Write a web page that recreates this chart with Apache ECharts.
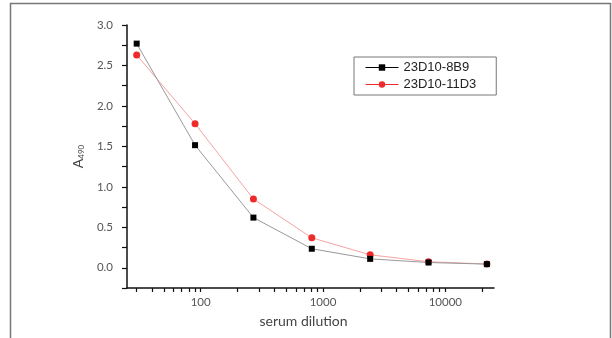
<!DOCTYPE html>
<html>
<head>
<meta charset="utf-8">
<script src="https://cdn.jsdelivr.net/npm/echarts@6/dist/echarts.min.js"></script>
<style>html,body{margin:0;padding:0;background:#fff;}#c{width:612px;height:338px;}</style>
</head>
<body>
<div id="c"></div>
<script>
const dilutions = [30, 90, 270, 810, 2430, 7290, 21870];
const series8B9 = [2.77, 1.515, 0.62, 0.235, 0.11, 0.065, 0.045];
const series11D3 = [2.63, 1.78, 0.85, 0.37, 0.16, 0.075, 0.046];
const xMajorTicks = [100, 1000, 10000];
const xMinorTicks = [30, 40, 50, 60, 70, 80, 90, 200, 300, 400, 500, 600, 700, 800, 900, 2000, 3000, 4000, 5000, 6000, 7000, 8000, 9000, 20000];
const yMajorTicks = [0, 0.5, 1.0, 1.5, 2.0, 2.5, 3.0];
const yMinorTicks = [-0.25, 0.25, 0.75, 1.25, 1.75, 2.25, 2.75];
const seriesNames = ['23D10-8B9', '23D10-11D3'];

const font = 'Lato, "Open Sans", sans-serif';
const chart = echarts.init(document.getElementById('c'), null, {renderer: 'canvas'});
const pair = (xs, ys) => xs.map((x, i) => [x, ys[i]]);
chart.setOption({
  animation: false,
  backgroundColor: '#fff',
  graphic: [{
    type: 'rect', shape: {x: 10.5, y: 3.5, width: 600, height: 340},
    style: {fill: 'none', stroke: '#777', lineWidth: 1.5}, silent: true
  }],
  grid: {left: 127, right: 118, top: 25, bottom: 50},
  legend: {
    orient: 'vertical', left: 354, top: 57,
    borderColor: '#777', borderWidth: 1, padding: [4, 20, 4, 11],
    itemWidth: 33, itemHeight: 8, itemGap: 4,
    textStyle: {fontFamily: 'Liberation Sans, Arial, sans-serif', fontSize: 13, color: '#222', lineHeight: 13},
    data: [
      {name: seriesNames[0], itemStyle: {color: '#000'}, lineStyle: {color: '#000', width: 1}},
      {name: seriesNames[1], itemStyle: {color: '#ee2a2a'}, lineStyle: {color: '#ee2a2a', width: 1}}
    ]
  },
  xAxis: {
    type: 'log', logBase: 10, min: 25, max: 25000, position: 'bottom',
    splitLine: {show: false}, minorTick: {show: false}, minorSplitLine: {show: false},
    name: 'serum dilution', nameLocation: 'middle', nameGap: 26,
    nameTextStyle: {fontFamily: font, fontSize: 14, color: '#444', padding: [0, 14, 0, 0]},
    axisLine: {onZero: false, lineStyle: {color: '#111', width: 1.5}},
    axisTick: {show: true, customValues: xMajorTicks.concat(xMinorTicks), length: 4, lineStyle: {color: '#111', width: 1.2}},
    axisLabel: {customValues: xMajorTicks, formatter: v => String(v), fontFamily: font, fontSize: 11.5, color: '#555', margin: 8}
  },
  yAxis: {
    type: 'value', min: -0.25, max: 3.0, position: 'left',
    splitLine: {show: false}, minorTick: {show: false},
    name: 'A{sub|490}', nameLocation: 'middle', nameGap: 42, nameRotate: 90,
    nameTextStyle: {fontFamily: font, fontSize: 14, color: '#444',
      rich: {sub: {fontFamily: font, fontSize: 8, color: '#444', verticalAlign: 'bottom'}}},
    axisLine: {onZero: false, lineStyle: {color: '#111', width: 1.5}},
    axisTick: {show: true, customValues: yMajorTicks.concat(yMinorTicks), length: 5, lineStyle: {color: '#111', width: 1.2}},
    axisLabel: {customValues: yMajorTicks, formatter: v => Number(v).toFixed(1), fontFamily: font, fontSize: 11.5, color: '#555', margin: 14}
  },
  series: [
    {
      name: seriesNames[0], type: 'line',
      data: pair(dilutions, series8B9),
      symbol: 'rect', symbolSize: 6, showSymbol: true,
      lineStyle: {color: '#999', width: 1},
      itemStyle: {color: '#000'}, z: 3
    },
    {
      name: seriesNames[1], type: 'line',
      data: pair(dilutions, series11D3),
      symbol: 'circle', symbolSize: 7, showSymbol: true,
      lineStyle: {color: '#f5a3a3', width: 1},
      itemStyle: {color: '#ee2a2a'}, z: 2
    }
  ]
});
</script>
</body>
</html>
